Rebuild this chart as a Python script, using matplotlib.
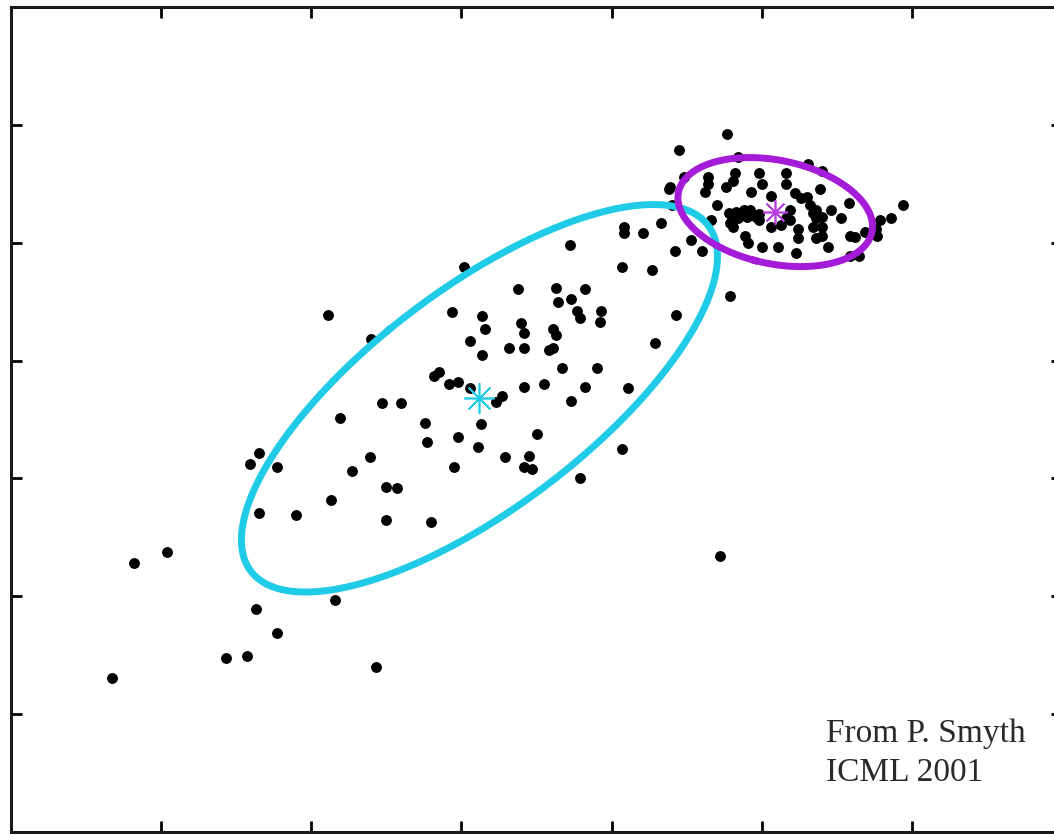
import numpy as np
import matplotlib.pyplot as plt

# samples (arbitrary units, axes run 0..7 on both sides)
x_pts = [0.67, 0.82, 1.04, 1.43, 1.57, 1.77, 1.63, 2.16, 2.43, 4.72,
         1.59, 1.65, 1.77, 1.65, 1.90, 2.13, 2.27, 2.39, 2.50, 2.57,
         2.50, 2.80, 2.11, 2.40, 2.47, 2.60, 2.19, 2.76, 2.77, 3.02,
         4.07, 3.38, 3.63, 3.82, 3.64, 3.73, 3.77, 3.79, 3.93, 3.92,
         2.94, 3.14, 3.16, 3.40, 3.42, 3.61, 3.63, 3.06, 3.32, 3.42,
         3.58, 3.61, 3.14, 3.67, 3.90, 2.82, 2.85, 2.92, 2.98, 3.06,
         3.42, 3.55, 3.82, 4.11, 3.23, 3.27, 3.73, 3.13, 2.98, 3.50,
         3.11, 3.29, 3.45, 3.42, 3.47, 2.95, 4.07, 3.79, 3.72, 4.08,
         4.08, 4.21, 4.33, 4.53, 4.42, 4.60, 4.27, 4.79, 4.43, 4.29,
         4.40, 4.39,
         4.77, 4.45, 4.84, 5.31, 4.38, 4.48, 4.64, 4.64, 4.82, 4.81,
         4.98, 5.16, 5.40, 4.76, 4.93, 5.00, 5.16, 5.39, 4.62, 5.06,
         5.22, 5.26, 5.30, 5.32, 4.70, 5.58, 5.94, 5.46, 5.19, 5.36,
         5.34, 4.78, 4.83, 4.88, 4.90, 4.92, 4.98, 4.96, 4.80, 4.84,
         4.79, 4.81, 4.98, 5.16, 5.19, 5.36, 5.40, 5.53, 5.06, 5.13,
         5.24, 5.34, 5.40, 5.40, 5.79, 5.86, 5.76, 5.77, 5.69, 5.59,
         5.62, 4.89, 4.91, 5.00, 5.11, 5.23, 5.44, 5.59, 5.65, 4.66,
         5.24, 5.36]
y_pts = [1.31, 2.28, 2.38, 1.48, 1.49, 1.69, 1.89, 1.97, 1.40, 2.34,
         3.12, 3.22, 3.10, 2.71, 2.69, 2.82, 3.06, 3.18, 2.93, 2.92,
         2.65, 2.63, 4.39, 4.18, 3.64, 3.64, 3.51, 3.47, 3.31, 4.79,
         4.79, 4.61, 4.62, 4.61, 4.50, 4.52, 4.42, 4.36, 4.42, 4.33,
         4.41, 4.38, 4.27, 4.32, 4.23, 4.27, 4.22, 4.17, 4.11, 4.11,
         4.09, 4.11, 4.05, 3.94, 3.94, 3.87, 3.90, 3.80, 3.82, 3.77,
         3.78, 3.80, 3.78, 3.77, 3.65, 3.70, 3.66, 3.46, 3.35, 3.38,
         3.27, 3.18, 3.19, 3.10, 3.08, 3.10, 3.25, 3.00, 4.98, 5.13,
         5.08, 5.08, 5.17, 5.02, 4.93, 4.93, 4.77, 4.55, 4.39, 4.15,
         5.32, 5.47,
         5.92, 5.79, 5.73, 5.67, 5.46, 5.56, 5.56, 5.50, 5.59, 5.52,
         5.59, 5.59, 5.61, 5.47, 5.43, 5.50, 5.50, 5.46, 5.43, 5.40,
         5.42, 5.38, 5.39, 5.32, 5.32, 5.34, 5.32, 5.28, 5.28, 5.28,
         5.25, 5.25, 5.26, 5.28, 5.22, 5.28, 5.24, 5.22, 5.19, 5.21,
         5.17, 5.13, 5.19, 5.21, 5.19, 5.21, 5.22, 5.21, 5.13, 5.15,
         5.12, 5.13, 5.13, 5.06, 5.19, 5.21, 5.12, 5.06, 5.09, 5.06,
         5.05, 5.06, 5.00, 4.96, 4.96, 4.91, 4.96, 4.89, 4.89, 5.19,
         5.04, 5.04]

# fitted mixture components: means and covariances
mu1 = [3.12, 3.68]
cov1 = [[2.514, 1.905], [1.905, 2.703]]
mu2 = [5.09, 5.26]
cov2 = [[0.420, -0.079], [-0.079, 0.214]]

cyan = '#1fcbe6'
purple = '#a41bd8'


def ellipse(mu, cov, n=300):
    vals, vecs = np.linalg.eigh(np.array(cov))
    t = np.linspace(0, 2 * np.pi, n)
    circ = np.vstack([np.cos(t), np.sin(t)])
    pts = vecs @ (np.sqrt(vals)[:, None] * circ)
    return pts[0] + mu[0], pts[1] + mu[1]


fig = plt.figure(figsize=(10.54, 8.34), dpi=100)
ax = fig.add_axes([11 / 1054, 2 / 834, 1051 / 1054, 825 / 834])

ax.plot(x_pts, y_pts, 'o', color='black', markersize=6.8, zorder=2)

ex, ey = ellipse(mu1, cov1)
ax.plot(ex, ey, color=cyan, lw=5, zorder=3)
ex, ey = ellipse(mu2, cov2)
ax.plot(ex, ey, color=purple, lw=5, zorder=3)

ax.plot(mu1[0], mu1[1], marker=(8, 2, 0), color=cyan, markersize=22,
        markeredgewidth=1.2, zorder=4)
ax.plot(mu2[0], mu2[1], marker=(8, 2, 0), color='#b83ee0', markersize=18,
        markeredgewidth=1.2, zorder=4)

ax.text(5.43, 0.965, 'From P. Smyth\nICML 2001', family='Liberation Serif',
        fontsize=24, color='#2a2a2a', va='top', ha='left', linespacing=1.36)

ax.set_xlim(0, 7)
ax.set_ylim(0, 7)
ax.set_xticks(range(8))
ax.set_yticks(range(8))
ax.tick_params(direction='in', length=8, width=2, top=True, right=True,
               labelbottom=False, labelleft=False)
for s in ax.spines.values():
    s.set_linewidth(2.2)
    s.set_color('#1a1a1a')

fig.savefig('out.png', dpi=100)
